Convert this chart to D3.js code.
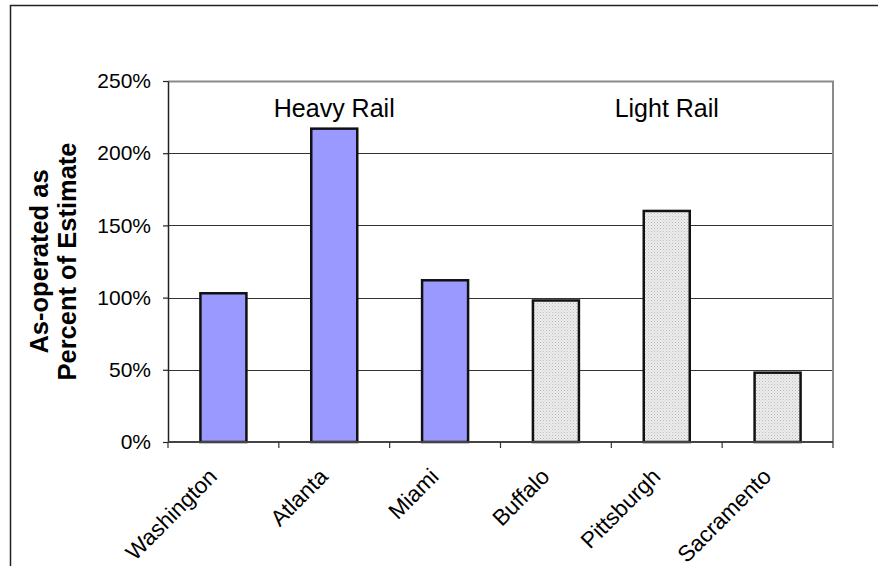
<!DOCTYPE html>
<html>
<head>
<meta charset="utf-8">
<script src="https://cdn.jsdelivr.net/npm/d3@7"></script>
<style>
  html, body { margin: 0; padding: 0; background: #fff; }
  svg { display: block; font-family: "Liberation Sans", Arial, sans-serif; }
</style>
</head>
<body>
<svg id="chart" width="878" height="566"></svg>
<script>
// Systems and their as-operated result as a percent of the estimate
const categories = ["Washington", "Atlanta", "Miami", "Buffalo", "Pittsburgh", "Sacramento"];
const percentOfEstimate = [103, 217, 112, 98, 160, 48];
const railType = ["heavy", "heavy", "heavy", "light", "light", "light"];
const yTicks = [0, 50, 100, 150, 200, 250];
const groupLabels = ["Heavy Rail", "Light Rail"];
const groupLabelAt = ["Atlanta", "Pittsburgh"];
const groupLabelLevel = [225, 225];
const yTitleLines = ["As-operated as", "Percent of Estimate"];

const svg = d3.select("#chart");
const plot = { left: 168, right: 833, top: 81, bottom: 442 };

// outer frame (runs off the right and bottom of the page)
svg.append("rect")
  .attr("x", 10.5).attr("y", 5.5)
  .attr("width", 900).attr("height", 600)
  .attr("fill", "none").attr("stroke", "#222").attr("stroke-width", 1.5);

const x = d3.scaleBand()
  .domain(categories)
  .range([plot.left, plot.right])
  .paddingInner(0.585)
  .paddingOuter(0.2925);

const y = d3.scaleLinear()
  .domain([0, 250])
  .range([plot.bottom, plot.top]);

// dotted fill for light rail bars
const defs = svg.append("defs");
const pat = defs.append("pattern")
  .attr("id", "dots").attr("patternUnits", "userSpaceOnUse")
  .attr("width", 3).attr("height", 3);
pat.append("rect").attr("width", 3).attr("height", 3).attr("fill", "#ececec");
pat.append("rect").attr("x", 0).attr("y", 0).attr("width", 1).attr("height", 1).attr("fill", "#bdbdbd");
pat.append("rect").attr("x", 1.5).attr("y", 1.5).attr("width", 1).attr("height", 1).attr("fill", "#cfcfcf");

// gridlines
svg.append("g")
  .selectAll("line")
  .data(yTicks.filter(t => t > 0 && t < 250))
  .join("line")
  .attr("x1", plot.left).attr("x2", plot.right)
  .attr("y1", d => Math.round(y(d)) + 0.5).attr("y2", d => Math.round(y(d)) + 0.5)
  .attr("stroke", "#333").attr("stroke-width", 1);

// plot frame: top and right in grey
svg.append("path")
  .attr("d", `M${plot.left},${plot.top + 0.5}H${plot.right}V${plot.bottom}`)
  .attr("fill", "none").attr("stroke", "#8a8a8a").attr("stroke-width", 2);

// bars
svg.append("g")
  .selectAll("rect")
  .data(categories.map((c, i) => ({ c, v: percentOfEstimate[i], t: railType[i] })))
  .join("rect")
  .attr("x", d => x(d.c))
  .attr("y", d => y(d.v))
  .attr("width", x.bandwidth())
  .attr("height", d => y(0) - y(d.v))
  .attr("fill", d => d.t === "heavy" ? "#9999ff" : "url(#dots)")
  .attr("stroke", "#111").attr("stroke-width", 2.5);

// y axis
const yAxis = svg.append("g")
  .attr("transform", `translate(${plot.left},0)`)
  .call(d3.axisLeft(y).tickValues(yTicks).tickFormat(d => d + "%").tickSize(5).tickSizeOuter(0).tickPadding(12));
yAxis.select(".domain").attr("stroke", "#222").attr("stroke-width", 1.5);
yAxis.selectAll(".tick line").attr("stroke", "#222").attr("stroke-width", 1.2);
yAxis.selectAll(".tick text")
  .attr("font-size", 21).attr("fill", "#000")
  .attr("font-family", "'Liberation Sans', Arial, sans-serif");

// x axis baseline with tick marks between categories
const step = x.step();
const boundaries = d3.range(categories.length + 1).map(i => plot.left + i * step);
svg.append("line")
  .attr("x1", plot.left).attr("x2", plot.right)
  .attr("y1", plot.bottom).attr("y2", plot.bottom)
  .attr("stroke", "#444").attr("stroke-width", 2);
svg.append("g")
  .selectAll("line")
  .data(boundaries)
  .join("line")
  .attr("x1", d => d).attr("x2", d => d)
  .attr("y1", plot.bottom).attr("y2", plot.bottom + 6)
  .attr("stroke", "#333").attr("stroke-width", 1.2);

// category labels, rotated
svg.append("g")
  .selectAll("text")
  .data(categories)
  .join("text")
  .attr("transform", d => `translate(${x(d) + x.bandwidth() / 2 - 5},${plot.bottom + 36}) rotate(-45)`)
  .attr("text-anchor", "end")
  .attr("font-size", 22.5)
  .attr("fill", "#000")
  .text(d => d);

// group annotations
svg.append("g")
  .selectAll("text")
  .data(groupLabels.map((g, i) => ({ g, at: groupLabelAt[i], lvl: groupLabelLevel[i] })))
  .join("text")
  .attr("x", d => x(d.at) + x.bandwidth() / 2)
  .attr("y", d => y(d.lvl))
  .attr("text-anchor", "middle")
  .attr("font-size", 25)
  .attr("fill", "#000")
  .text(d => d.g);

// y axis title
const midY = (plot.top + plot.bottom) / 2;
svg.append("g")
  .selectAll("text")
  .data(yTitleLines)
  .join("text")
  .attr("transform", (d, i) => `translate(${48 + i * 28},${midY}) rotate(-90)`)
  .attr("text-anchor", "middle")
  .attr("font-size", 25.5)
  .attr("font-weight", "bold")
  .attr("fill", "#000")
  .text(d => d);
</script>
</body>
</html>
